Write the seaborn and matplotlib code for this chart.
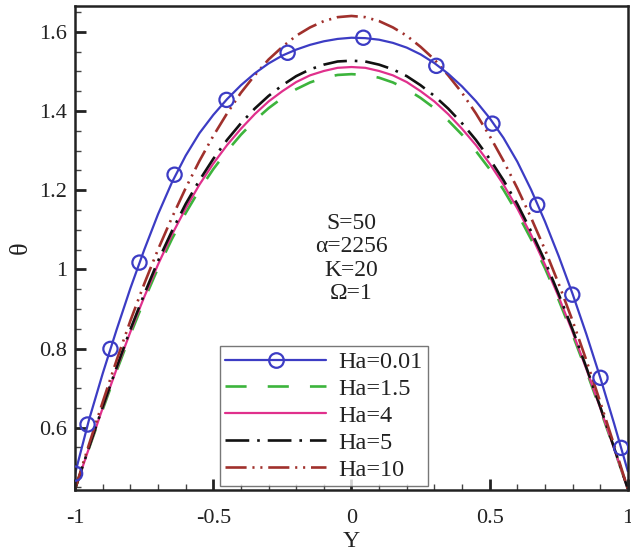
import numpy as np
import pandas as pd
import matplotlib
matplotlib.use("Agg")
import matplotlib.pyplot as plt
import seaborn as sns
from matplotlib.lines import Line2D
from matplotlib.ticker import MultipleLocator, FuncFormatter

# ---------------- data ----------------
Y = [-1.0, -0.95, -0.9, -0.85, -0.8, -0.75, -0.7, -0.65, -0.6, -0.55,
     -0.5, -0.45, -0.4, -0.35, -0.3, -0.25, -0.2, -0.15, -0.1, -0.05,
     0.0, 0.05, 0.1, 0.15, 0.2, 0.25, 0.3, 0.35, 0.4, 0.45,
     0.5, 0.55, 0.6, 0.65, 0.7, 0.75, 0.8, 0.85, 0.9, 0.95, 1.0]

theta_ha001 = [0.484, 0.619, 0.737, 0.847, 0.952, 1.049, 1.139, 1.219, 1.287, 1.344,
               1.390, 1.430, 1.465, 1.495, 1.520, 1.540, 1.555, 1.567, 1.576, 1.582,
               1.585, 1.584, 1.580, 1.572, 1.560, 1.543, 1.521, 1.494, 1.462, 1.425,
               1.382, 1.332, 1.272, 1.201, 1.121, 1.033, 0.938, 0.836, 0.727, 0.611, 0.490]

theta_ha15 = [0.445, 0.547, 0.646, 0.743, 0.835, 0.922, 1.003, 1.076, 1.142, 1.201,
              1.253, 1.299, 1.340, 1.376, 1.407, 1.433, 1.455, 1.472, 1.484, 1.491,
              1.493, 1.491, 1.484, 1.472, 1.455, 1.433, 1.407, 1.376, 1.340, 1.299,
              1.253, 1.201, 1.142, 1.076, 1.003, 0.922, 0.835, 0.743, 0.646, 0.547, 0.445]

theta_ha4 = [0.445, 0.548, 0.650, 0.748, 0.842, 0.930, 1.012, 1.087, 1.154, 1.214,
             1.267, 1.314, 1.355, 1.392, 1.424, 1.450, 1.473, 1.490, 1.501, 1.509,
             1.511, 1.509, 1.501, 1.490, 1.473, 1.450, 1.424, 1.392, 1.355, 1.314,
             1.267, 1.214, 1.154, 1.087, 1.012, 0.930, 0.842, 0.748, 0.650, 0.548, 0.445]

theta_ha5 = [0.445, 0.550, 0.653, 0.752, 0.848, 0.937, 1.021, 1.096, 1.165, 1.225,
             1.279, 1.327, 1.369, 1.406, 1.438, 1.465, 1.488, 1.505, 1.517, 1.525,
             1.527, 1.525, 1.517, 1.505, 1.488, 1.465, 1.438, 1.406, 1.369, 1.327,
             1.279, 1.225, 1.165, 1.096, 1.021, 0.937, 0.848, 0.752, 0.653, 0.550, 0.445]

theta_ha10 = [0.445, 0.557, 0.665, 0.770, 0.870, 0.963, 1.050, 1.130, 1.205, 1.274,
              1.337, 1.394, 1.446, 1.490, 1.530, 1.562, 1.590, 1.611, 1.627, 1.637,
              1.640, 1.637, 1.627, 1.611, 1.590, 1.562, 1.530, 1.490, 1.446, 1.394,
              1.337, 1.274, 1.205, 1.130, 1.050, 0.963, 0.870, 0.770, 0.665, 0.557, 0.445]

# marker positions on the Ha=0.01 curve
Y_mark = [-1.0, -0.955, -0.872, -0.767, -0.640, -0.452, -0.231, 0.043,
          0.307, 0.510, 0.672, 0.799, 0.901, 0.976]
theta_mark = [0.484, 0.608, 0.799, 1.017, 1.239, 1.428, 1.547, 1.585,
              1.514, 1.368, 1.163, 0.936, 0.726, 0.549]

labels = ["Ha=0.01", "Ha=1.5", "Ha=4", "Ha=5", "Ha=10"]
annotation = ["S=50", "\u03b1=2256", "K=20", "\u03a9=1"]
x_ticks = [-1, -0.5, 0, 0.5, 1]
y_ticks = [0.6, 0.8, 1.0, 1.2, 1.4, 1.6]

# ---------------- style ----------------
sns.set_theme(style="ticks")
plt.rcParams["font.family"] = ["Liberation Serif", "DejaVu Serif"]
plt.rcParams["axes.unicode_minus"] = False

fig = plt.figure(figsize=(6.31, 5.51), dpi=100)
ax = fig.add_axes([0.119, 0.111, 0.876, 0.878])

colors = {
    "Ha=0.01": "#3c3cc4",
    "Ha=1.5": "#3cb43c",
    "Ha=4": "#e0308c",
    "Ha=5": "#111111",
    "Ha=10": "#a0302c",
}
styles = {
    "Ha=0.01": dict(linestyle="-", lw=1.6),
    "Ha=1.5": dict(dashes=(8, 8), lw=1.9),
    "Ha=4": dict(linestyle="-", lw=1.6),
    "Ha=5": dict(dashes=(9, 3, 1, 3), lw=1.9),
    "Ha=10": dict(dashes=(8, 2.2, 0.8, 2.2, 0.8, 2.2), lw=1.9),
}
series = {
    "Ha=1.5": theta_ha15,
    "Ha=4": theta_ha4,
    "Ha=5": theta_ha5,
    "Ha=10": theta_ha10,
    "Ha=0.01": theta_ha001,
}

for name, vals in series.items():
    df = pd.DataFrame({"Y": Y, "theta": vals})
    st = styles[name]
    sns.lineplot(data=df, x="Y", y="theta", ax=ax, color=colors[name],
                 lw=st["lw"], legend=False, linestyle="-")
    if "dashes" in st:
        ax.lines[-1].set_dashes(st["dashes"])

dfm = pd.DataFrame({"Y": Y_mark, "theta": theta_mark})
sns.scatterplot(data=dfm, x="Y", y="theta", ax=ax, marker="o", s=105,
                facecolor="none", edgecolor=colors["Ha=0.01"], linewidth=1.6,
                legend=False, zorder=5)

# ---------------- axes ----------------
ax.set_xlim(-1, 1)
ax.set_ylim(0.443, 1.665)
ax.set_xticks(x_ticks)
ax.set_yticks(y_ticks)
ax.xaxis.set_minor_locator(MultipleLocator(0.1))
ax.yaxis.set_minor_locator(MultipleLocator(0.05))
fmt = FuncFormatter(lambda v, p: "%g" % round(v, 3))
ax.xaxis.set_major_formatter(fmt)
ax.yaxis.set_major_formatter(fmt)
ax.tick_params(axis="both", which="major", direction="in", length=8, width=2,
               labelsize=16, colors="#222222", pad=6, top=False, right=False)
ax.tick_params(axis="x", which="major", pad=14)
ax.tick_params(axis="both", which="minor", direction="in", length=4, width=1,
               top=False, right=False, colors="#444444")
for sp in ax.spines.values():
    sp.set_visible(True)
    sp.set_linewidth(1.8)
    sp.set_color("#222222")

ax.set_xlabel("Y", fontsize=17, color="#222222", labelpad=2)
ax.set_ylabel("\u03b8", fontsize=19, color="#222222")
ax.yaxis.set_label_coords(-0.078, 0.5)

ax.text(0.0, 1.027, "\n".join(annotation), ha="center", va="center",
        fontsize=17, color="#222222", linespacing=1.15)

# ---------------- legend ----------------
handles = []
for name in labels:
    st = styles[name]
    if name == "Ha=0.01":
        h = Line2D([0], [0], color=colors[name], lw=st["lw"], marker="o",
                   markersize=10.5, markerfacecolor="none", markeredgewidth=1.6)
    else:
        h = Line2D([0], [0], color=colors[name], lw=st["lw"], linestyle="-")
        if "dashes" in st:
            h.set_dashes(st["dashes"])
    handles.append(h)

leg = ax.legend(handles, labels, loc="lower left", bbox_to_anchor=(0.262, 0.008),
                fontsize=17.5, frameon=True, fancybox=False, handlelength=4.15,
                handletextpad=0.5, borderpad=0.22, labelspacing=0.2,
                borderaxespad=0.0)
leg.get_frame().set_edgecolor("#555555")
leg.get_frame().set_linewidth(1.0)
for t in leg.get_texts():
    t.set_color("#222222")

fig.savefig("out.png", dpi=100)
